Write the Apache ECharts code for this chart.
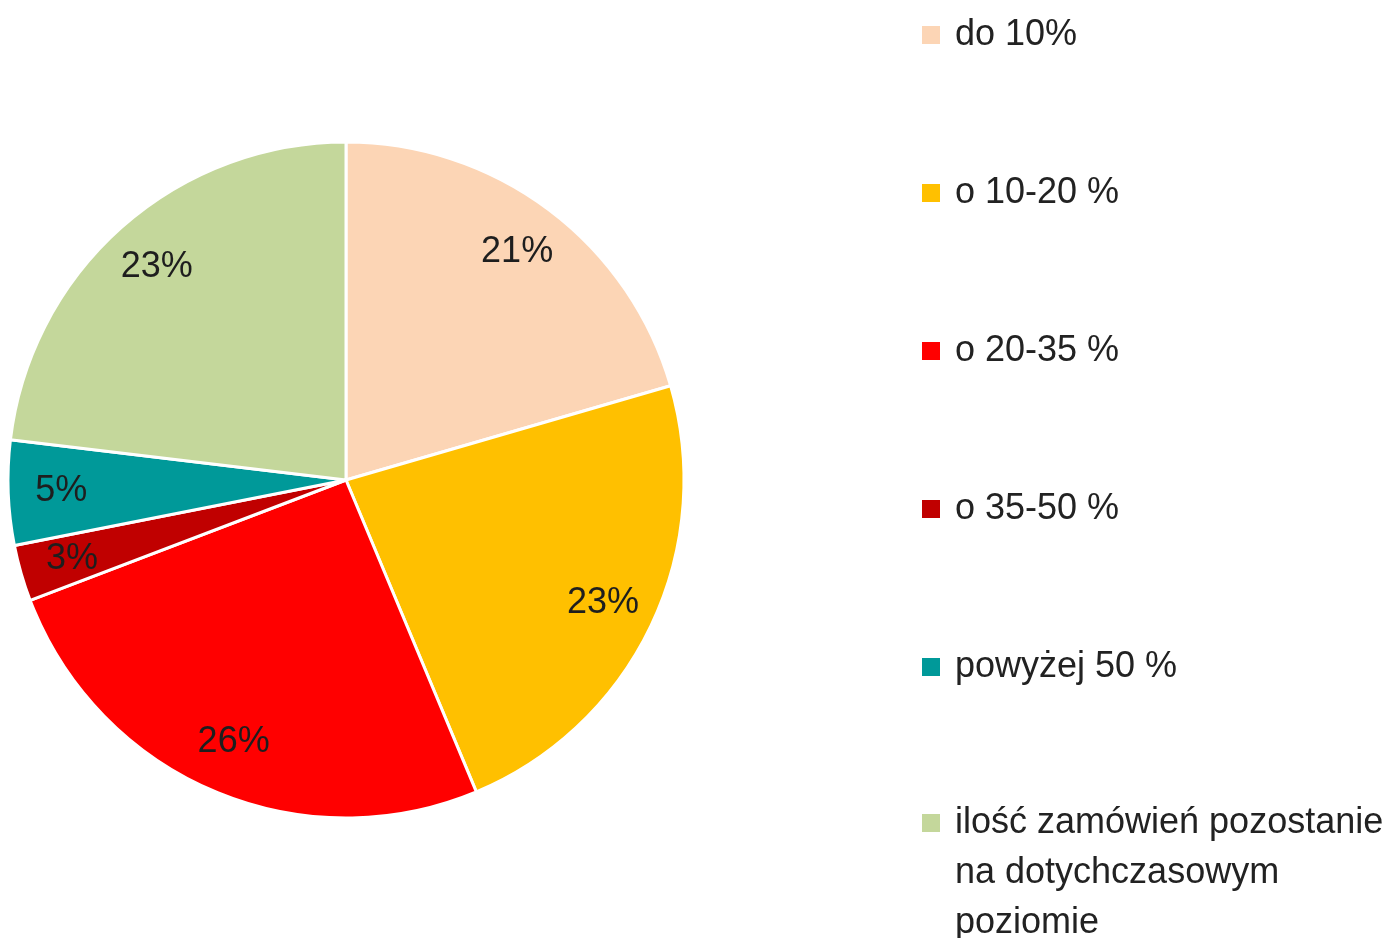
<!DOCTYPE html>
<html>
<head>
<meta charset="utf-8">
<script src="https://cdn.jsdelivr.net/npm/echarts@6/dist/echarts.min.js"></script>
<style>
  html, body { margin: 0; padding: 0; background: #fff; }
  #chart { width: 1394px; height: 938px; }
</style>
</head>
<body>
<div id="chart"></div>
<script>
// kategorie (legenda) i udziały
const categories = ['do 10%', 'o 10-20 %', 'o 20-35 %', 'o 35-50 %', 'powyżej 50 %', 'ilość zamówień pozostanie\nna dotychczasowym\npoziomie']
const values = [20.5, 23.2, 25.5, 2.7, 5.0, 23.1]
const colors = ['#FCD5B5', '#FFC000', '#FF0000', '#C00000', '#009999', '#C4D79B']

const font = 'Liberation Sans'
const chart = echarts.init(document.getElementById('chart'))

const pieData = categories.map((name, i) => ({ name, value: values[i] }))

const legendBase = {
  orient: 'vertical',
  left: 920,
  height: 1200,
  padding: 0,
  itemWidth: 20,
  itemHeight: 20,
  itemGap: 108,
  icon: 'rect',
  selectedMode: false,
  textStyle: {
    fontFamily: font,
    fontSize: 36,
    lineHeight: 50,
    color: '#222',
    padding: [0, 0, 0, 9]
  }
}

chart.setOption({
  animation: false,
  color: colors,
  legend: [
    Object.assign({}, legendBase, {
      top: 10,
      data: categories.slice(0, 5)
    }),
    Object.assign({}, legendBase, {
      // długa nazwa: dwie puste linie z przodu, żeby pierwsza linia stała przy ikonie
      top: 698,
      formatter: name => '\n\n' + name,
      data: categories.slice(5)
    })
  ],
  series: [
    {
      type: 'pie',
      center: [346, 480],
      radius: [0, 338],
      startAngle: 90,
      clockwise: true,
      silent: true,
      itemStyle: { borderColor: '#fff', borderWidth: 3 },
      label: { show: false },
      labelLine: { show: false },
      data: pieData
    },
    {
      // niewidoczny pierścień tylko do pozycjonowania etykiet
      type: 'pie',
      center: [346, 480],
      radius: [228, 336],
      startAngle: 90,
      clockwise: true,
      silent: true,
      itemStyle: { color: 'rgba(0,0,0,0)', borderWidth: 0 },
      label: {
        show: true,
        position: 'inside',
        fontFamily: font,
        fontSize: 36,
        color: '#1e1e1e',
        formatter: p => Math.round(p.percent) + '%'
      },
      labelLine: { show: false },
      data: pieData
    }
  ]
})
</script>
</body>
</html>
